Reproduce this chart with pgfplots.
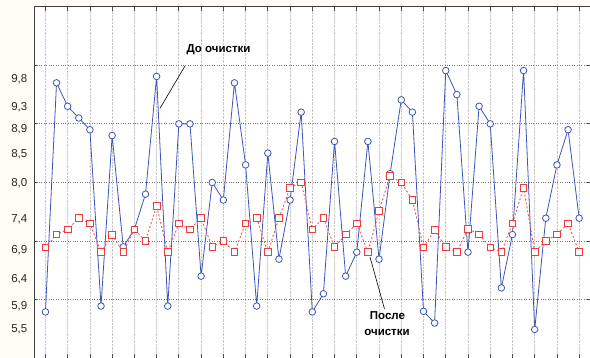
\documentclass[border=0pt]{standalone}
\usepackage{pgfplots}
\pgfplotsset{compat=1.18}
\usepackage{fontspec}
\setmainfont{Liberation Sans}
\definecolor{cream}{RGB}{255,253,245}
\definecolor{bline}{RGB}{62,84,185}
\definecolor{rline}{RGB}{238,60,60}
\pgfplotstableread{
i before after
1 5.79 6.89
2 9.70 7.11
3 9.30 7.20
4 9.10 7.39
5 8.90 7.30
6 5.89 6.81
7 8.80 7.10
8 6.90 6.81
9 7.20 7.20
10 7.80 7.00
11 9.81 7.60
12 5.89 6.81
13 9.00 7.30
14 9.00 7.20
15 6.40 7.39
16 8.00 6.90
17 7.70 7.00
18 9.70 6.81
19 8.30 7.30
20 5.89 7.39
21 8.50 6.81
22 6.69 7.39
23 7.70 7.91
24 9.20 8.00
25 5.79 7.20
26 6.10 7.39
27 8.70 6.90
28 6.40 7.11
29 6.81 7.30
30 8.70 6.81
31 6.69 7.51
32 8.15 8.11
33 9.41 8.00
34 9.20 7.70
35 5.80 6.89
36 5.60 7.19
37 9.91 6.90
38 9.50 6.81
39 6.81 7.21
40 9.30 7.11
41 9.00 6.89
42 6.20 6.81
43 7.11 7.30
44 9.91 7.91
45 5.49 6.81
46 7.39 7.00
47 8.30 7.11
48 8.90 7.30
49 7.39 6.81
}\datatable
\begin{document}
\begin{tikzpicture}[x=1pt,y=1pt]
\fill[cream] (0,0) rectangle (590,-358);
\begin{axis}[
  scale only axis,
  width=556pt, height=351.5pt,
  anchor=north west, at={(34.3pt,-6.7pt)},
  xmin=0, xmax=50, ymin=5, ymax=11,
  axis background/.style={fill=white},
  axis line style={black!75, line width=0.9pt},
  xtick={1,3,...,49}, xticklabels={},
  tick align=inside,
  major tick length=4pt,
  xtick style={black!70, line width=0.8pt},
  xmajorgrids,
  x grid style={black!22, densely dotted, line width=0.8pt},
  y grid style={black!55, dotted, line width=0.8pt},
  ytick={5.49,5.89,6.35,6.84,7.37,7.98,8.49,8.91,9.28,9.76},
  yticklabels={{5,5},{5,9},{6,4},{6,9},{7,4},{8,0},{8,5},{8,9},{9,3},{9,8}},
  ytick style={draw=none},
  yticklabel style={font=\fontsize{11.5}{13}\selectfont, text=black!85, xshift=-3.5pt},
  /pgf/number format/assume math mode=true,
  extra y ticks={6,7,8,9,10},
  extra y tick labels={},
  extra y tick style={grid=major, ytick style={draw=black!70, line width=0.8pt}, major tick length=3pt},
  clip=false,
]
\addplot[bline, line width=0.8pt, mark=*, mark size=3.3pt,
  mark options={fill=white, draw=bline, line width=0.8pt}]
  table[x=i, y=before] {\datatable};
\addplot[rline!85, line width=0.9pt, dash pattern=on 2pt off 2pt, mark=square*, mark size=3.3pt,
  mark options={fill=white, draw=rline, solid, line width=0.8pt}]
  table[x=i, y=after] {\datatable};
\end{axis}
\draw[black, line width=0.6pt] (185,-66) -- (160,-108.3);
\node[font=\bfseries\fontsize{11.5}{13}\selectfont, inner sep=0pt] at (218.5,-49.3) {До очистки};
\draw[black, line width=0.6pt] (370,-257) -- (384.5,-309);
\node[font=\bfseries\fontsize{11.5}{13}\selectfont, inner sep=0pt] at (387.5,-315.7) {После};
\node[font=\bfseries\fontsize{11.5}{13}\selectfont, inner sep=0pt] at (387,-332.7) {очистки};
\pgfresetboundingbox
\useasboundingbox (0,0) rectangle (590,-358);
\end{tikzpicture}
\end{document}
